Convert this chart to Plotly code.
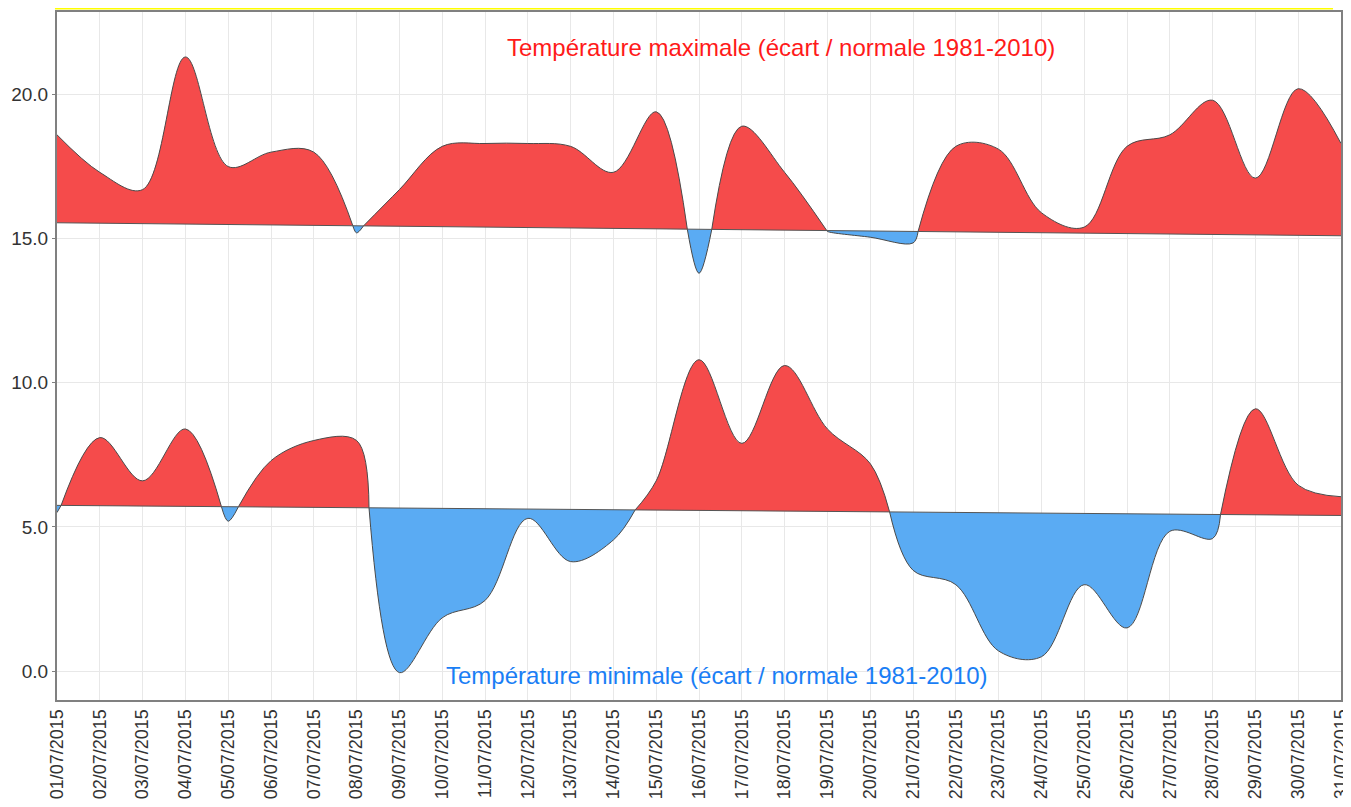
import numpy as np
import plotly.graph_objects as go

dates = [f"{d:02d}/07/2015" for d in range(1, 32)]

tmax = [18.6, 17.3, 16.7, 21.3, 17.5, 18.0, 18.0, 15.2, 16.7, 18.2,
        18.3, 18.3, 18.2, 17.3, 19.4, 13.8, 18.9, 17.3, 15.25, 15.05,
        14.85, 18.2, 18.1, 15.9, 15.4, 18.2, 18.6, 19.8, 17.1, 20.2, 18.3]
tmax_norm_start, tmax_norm_end = 15.55, 15.1

tmin = [5.5, 8.1, 6.6, 8.4, 5.2, 7.3, 8.0, 8.0, -0.05, 1.85,
        2.45, 5.3, 3.8, 4.55, 6.6, 10.8, 7.9, 10.6, 8.4, 7.2,
        3.5, 3.0, 0.7, 0.5, 3.0, 1.5, 4.85, 4.6, 9.1, 6.45, 6.05]
tmin_norm_start, tmin_norm_end = 5.75, 5.4

RED = "#f54b4b"
BLUE = "#5aabf3"
EDGE = "#4a4a4a"

x = np.arange(len(dates), dtype=float)
fig = go.Figure()


def add_series(vals, n0, n1):
    vals = np.array(vals, dtype=float)
    norm = np.linspace(n0, n1, len(vals))
    diff = vals - norm
    # insert crossing points between above/below parts
    xs, ys, ns = [x[0]], [vals[0]], [norm[0]]
    for i in range(1, len(vals)):
        d0, d1 = diff[i - 1], diff[i]
        if d0 * d1 < 0:
            t = d0 / (d0 - d1)
            xc = x[i - 1] + t
            nc = norm[i - 1] + t * (norm[i] - norm[i - 1])
            xs.append(xc); ys.append(nc); ns.append(nc)
        xs.append(x[i]); ys.append(vals[i]); ns.append(norm[i])
    xs, ys, ns = np.array(xs), np.array(ys), np.array(ns)
    sign = np.sign(ys - ns)
    runs = []
    start = 0
    cur = None
    for k in range(len(xs)):
        s = sign[k]
        if s == 0:
            if cur is not None:
                runs.append((start, k, cur))
            start = k
            cur = None
            continue
        if cur is None:
            cur = s
        elif s != cur:
            runs.append((start, k - 1, cur))
            start = k - 1
            cur = s
    if cur is not None:
        runs.append((start, len(xs) - 1, cur))
    for a, b, s in runs:
        seg = slice(a, b + 1)
        fig.add_trace(go.Scatter(x=xs[seg], y=ns[seg], mode="lines",
                                 line=dict(width=0, color="rgba(0,0,0,0)"),
                                 hoverinfo="skip", showlegend=False))
        fig.add_trace(go.Scatter(x=xs[seg], y=ys[seg], mode="lines",
                                 line=dict(width=1, color=EDGE, shape="spline", smoothing=1.0),
                                 fill="tonexty", fillcolor=RED if s > 0 else BLUE,
                                 hoverinfo="skip", showlegend=False))
    fig.add_trace(go.Scatter(x=x, y=norm, mode="lines",
                             line=dict(width=1, color="#555555"),
                             hoverinfo="skip", showlegend=False))


add_series(tmax, tmax_norm_start, tmax_norm_end)
add_series(tmin, tmin_norm_start, tmin_norm_end)

FONT = "Liberation Sans, Arial, sans-serif"

fig.add_annotation(x=0.5639, xref="paper", y=0.9477, yref="paper",
                   text="Température maximale (écart / normale 1981-2010)",
                   showarrow=False, font=dict(family=FONT, size=24, color="#ff1a1a"),
                   xanchor="center", yanchor="middle")
fig.add_annotation(x=0.514, xref="paper", y=0.0349, yref="paper",
                   text="Température minimale (écart / normale 1981-2010)",
                   showarrow=False, font=dict(family=FONT, size=24, color="#1a7ef5"),
                   xanchor="center", yanchor="middle")

fig.add_shape(type="rect", xref="paper", yref="paper", x0=-0.0016, x1=0.9938,
              y0=1.0035, y1=1.015, fillcolor="#ffff00", line=dict(width=0), layer="above")

fig.update_layout(
    width=1343, height=799,
    margin=dict(l=49, r=10, t=4, b=107, autoexpand=False),
    paper_bgcolor="white", plot_bgcolor="white",
    font=dict(family=FONT, size=19, color="#333333"),
    showlegend=False,
)
fig.update_xaxes(range=[0, 30], tickmode="array", tickvals=list(x), ticktext=dates,
                 tickangle=-90, showgrid=True, gridcolor="#e8e8e8", gridwidth=1,
                 showline=True, linecolor="#808080", linewidth=2, mirror=True,
                 zeroline=False, ticks="", automargin=False,
                 tickfont=dict(size=18, color="#333333"))
fig.update_yaxes(range=[-1, 22.86], tickvals=[0, 5, 10, 15, 20], tickformat=".1f",
                 showgrid=True, gridcolor="#e8e8e8", gridwidth=1,
                 showline=True, linecolor="#808080", linewidth=2, mirror=True,
                 zeroline=False, ticks="outside", ticklen=3, tickcolor="#808080",
                 automargin=False, tickfont=dict(size=19, color="#333333"))

fig.write_html("out.html")
